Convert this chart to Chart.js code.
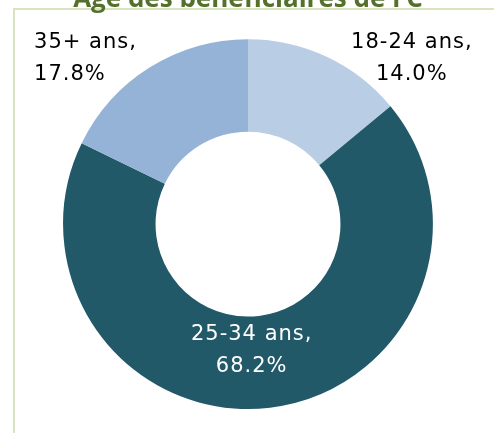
<!DOCTYPE html>
<html>
<head>
<meta charset="utf-8">
<script src="https://cdn.jsdelivr.net/npm/chart.js@4"></script>
<style>
  html, body { margin: 0; padding: 0; background: #fff; overflow: hidden; }
  body { width: 494px; height: 433px; position: relative; }
  .frame { position: absolute; left: 13px; top: 8px; width: 700px; height: 700px; border: 2px solid #d7e4bd; box-sizing: border-box; }
  .wrap { position: absolute; left: 0; top: -16px; width: 494px; height: 449px; }
</style>
</head>
<body>
<div class="frame"></div>
<div class="wrap"><canvas id="chart"></canvas></div>
<script>
// data
const categories = ['18-24 ans', '25-34 ans', '35+ ans'];
const shares = [14.0, 68.2, 17.8];
const sliceColors = ['#b9cde5', '#215968', '#95b3d7'];
const titleText = 'Âge des bénéficiaires de FC';

// where each label sits, relative to the ring centre (in outer-radius units)
const labelSpots = [
    { dx: 0.886, dy: -0.903, align: 'center', color: '#000' },
    { dx: 0.02, dy: 0.676, align: 'center', color: '#fff' },
    { dx: -1.157, dy: -0.903, align: 'left', color: '#000' }
];

const sliceLabels = {
    id: 'sliceLabels',
    afterDatasetsDraw(chart) {
        const ctx = chart.ctx;
        const meta = chart.getDatasetMeta(0);
        ctx.save();
        ctx.font = '21px "DejaVu Sans"';
        ctx.letterSpacing = '1px';
        ctx.textBaseline = 'middle';
        meta.data.forEach((arc, i) => {
            const spot = labelSpots[i];
            const r = arc.outerRadius;
            const x = arc.x + spot.dx * r;
            const y = arc.y + spot.dy * r + 1;
            ctx.fillStyle = spot.color;
            ctx.textAlign = spot.align;
            ctx.fillText(categories[i] + ',', x, y - 16);
            ctx.fillText(shares[i].toFixed(1) + '%', x, y + 16);
        });
        ctx.restore();
    }
};

new Chart(document.getElementById('chart'), {
    type: 'doughnut',
    data: {
        labels: categories,
        datasets: [{
            data: shares,
            backgroundColor: sliceColors,
            borderWidth: 0,
            hoverOffset: 0
        }]
    },
    options: {
        responsive: true,
        maintainAspectRatio: false,
        animation: false,
        cutout: '50%',
        layout: { padding: { left: 2, right: 0, top: 0, bottom: 24 } },
        plugins: {
            legend: { display: false },
            tooltip: { enabled: false },
            title: {
                display: true,
                text: titleText,
                color: '#55702d',
                font: { family: '"Open Sans"', size: 26, weight: 'bold', lineHeight: 1.2 },
                padding: { top: 0, bottom: 24 }
            }
        }
    },
    plugins: [sliceLabels]
});
</script>
</body>
</html>
